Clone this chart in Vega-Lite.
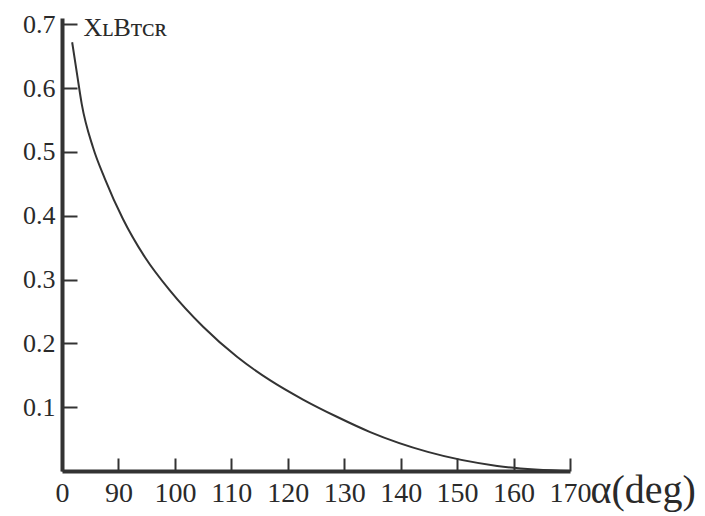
{
  "$schema": "https://vega.github.io/schema/vega-lite/v6.json",
  "width": 508,
  "height": 453,
  "autosize": {"type": "none"},
  "padding": {"left": 62, "top": 18, "right": 135, "bottom": 45},
  "background": "white",
  "config": {"view": {"stroke": null}},
  "data": {
    "values": [
      {"alpha": 81.8, "v": 0.672},
      {"alpha": 82.7, "v": 0.62},
      {"alpha": 83.5, "v": 0.575},
      {"alpha": 85.5, "v": 0.507},
      {"alpha": 87.6, "v": 0.458},
      {"alpha": 90.8, "v": 0.395},
      {"alpha": 94.7, "v": 0.335},
      {"alpha": 99.1, "v": 0.283},
      {"alpha": 105.0, "v": 0.226},
      {"alpha": 111.0, "v": 0.179},
      {"alpha": 116.9, "v": 0.142},
      {"alpha": 122.7, "v": 0.112},
      {"alpha": 128.7, "v": 0.085},
      {"alpha": 134.6, "v": 0.061},
      {"alpha": 144.8, "v": 0.03},
      {"alpha": 157.1, "v": 0.008},
      {"alpha": 170.0, "v": 0.0}
    ]
  },
  "mark": {"type": "line", "interpolate": "monotone", "color": "#333333", "strokeWidth": 2},
  "encoding": {
    "x": {
      "field": "alpha",
      "type": "quantitative",
      "scale": {"domain": [80, 170], "nice": false, "zero": false},
      "axis": {
        "values": [80, 90, 100, 110, 120, 130, 140, 150, 160, 170],
        "labelExpr": "datum.value == 80 ? '0' : datum.label",
        "labelOverlap": false,
        "labelBound": false,
        "labelFlush": false,
        "grid": false,
        "domainColor": "#333333",
        "domainWidth": 4,
        "tickColor": "#333333",
        "tickWidth": 2,
        "tickSize": -13,
        "labelPadding": 21,
        "labelFont": "Liberation Serif",
        "labelFontSize": 28,
        "labelColor": "#2a2a2a",
        "title": "α(deg)",
        "titleFont": "Liberation Serif",
        "titleFontSize": 40,
        "titleFontWeight": "normal",
        "titleColor": "#2a2a2a",
        "titleAnchor": "start",
        "titleAlign": "left",
        "titleBaseline": "alphabetic",
        "titleX": 528,
        "titleY": 31
      }
    },
    "y": {
      "field": "v",
      "type": "quantitative",
      "scale": {"domain": [0, 0.71], "nice": false},
      "axis": {
        "values": [0.1, 0.2, 0.3, 0.4, 0.5, 0.6, 0.7],
        "format": ".1f",
        "labelOverlap": false,
        "labelBound": false,
        "labelFlush": false,
        "grid": false,
        "domainColor": "#333333",
        "domainWidth": 4,
        "tickColor": "#333333",
        "tickWidth": 2,
        "tickSize": -15,
        "labelPadding": 22,
        "labelFont": "Liberation Serif",
        "labelFontSize": 26,
        "labelColor": "#2a2a2a",
        "title": "XʟBᴛᴄʀ",
        "titleFont": "Liberation Serif",
        "titleFontSize": 26,
        "titleFontWeight": "normal",
        "titleColor": "#2a2a2a",
        "titleAngle": 0,
        "titleAlign": "left",
        "titleBaseline": "alphabetic",
        "titleX": 21,
        "titleY": 17
      }
    }
  }
}
